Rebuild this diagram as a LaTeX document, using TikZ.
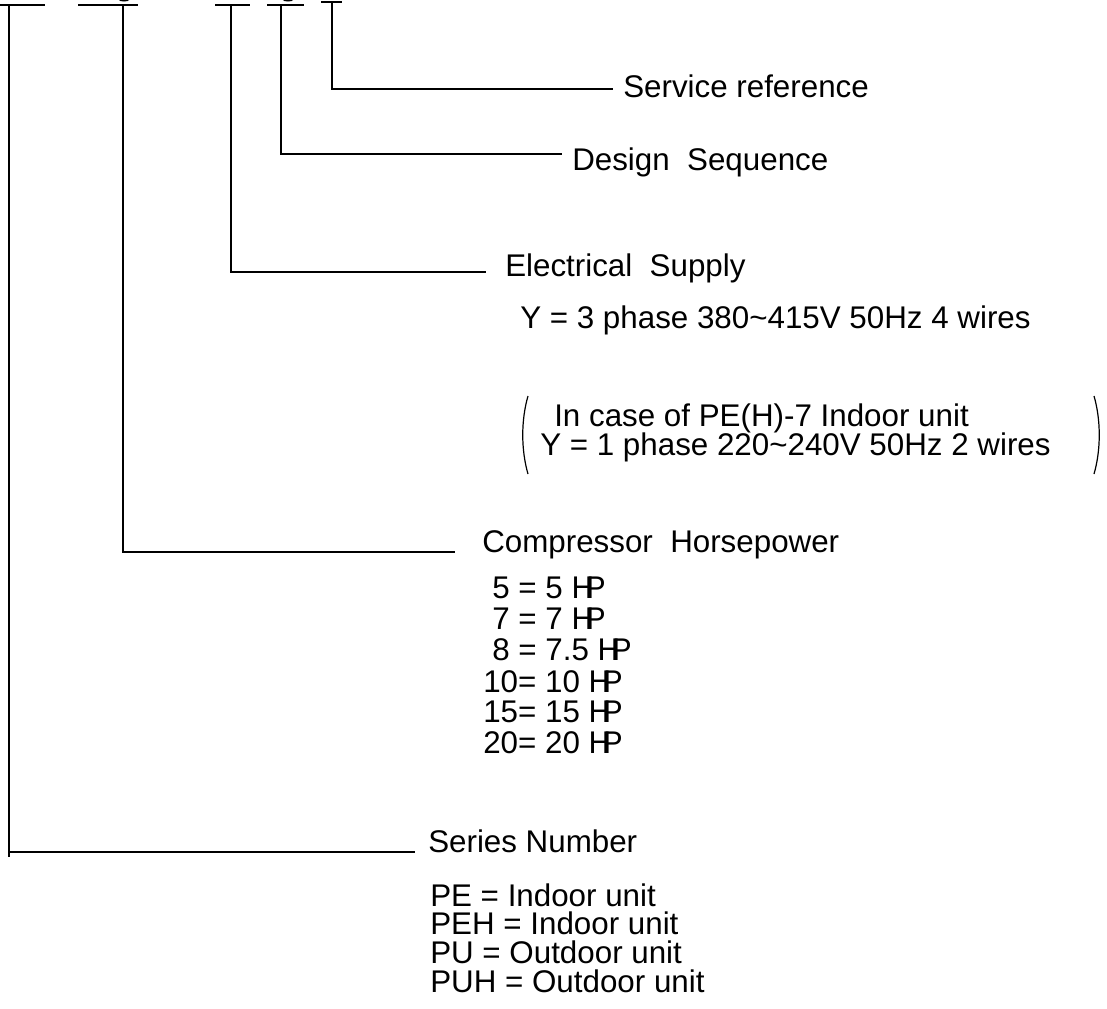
\documentclass[tikz,border=0pt]{standalone}
\usepackage{fontspec}
\setmainfont{Liberation Sans}
\begin{document}
\begin{tikzpicture}[x=0.75pt,y=-0.75pt,
  font=\fontsize{23.5}{28}\selectfont,
  lbl/.style={anchor=base west, inner sep=0pt},
  conn/.style={line width=0.9pt},
  bar/.style={line width=1.9pt}]
\useasboundingbox (0,0) rectangle (1107,1008);
% code bars at the top
\draw[bar] (0,5) -- (45,5);
\draw[bar] (78,5) -- (138,5);
\draw[bar] (215,5) -- (250,5);
\draw[bar] (267,5) -- (304,5);
\draw[bar] (321,2) -- (342,2);
\fill (124,0) ellipse (5 and 1.5);
\fill (288,0) ellipse (5 and 1.5);
% labels
\node[lbl] (svc) at (623,97) {Service reference};
\node[lbl] (des) at (572,170) {Design\ \ Sequence};
\node[lbl] (ele) at (505,276) {Electrical\ \ Supply};
\node[lbl] (ely) at (520,328) {Y = 3 phase 380\textasciitilde415V 50Hz 4 wires};
\node[lbl] (pa1) at (554,426) {In case of PE(H)-7 Indoor unit};
\node[lbl] (pa2) at (540,455) {Y = 1 phase 220\textasciitilde240V 50Hz 2 wires};
\node[lbl] (cmp) at (482,552) {Compressor\ \ Horsepower};
\node[lbl] (hp1) at (492,598) {5 = 5 H\kern-0.3em P};
\node[lbl] (hp2) at (492,629) {7 = 7 H\kern-0.3em P};
\node[lbl] (hp3) at (492,660) {8 = 7.5 H\kern-0.3em P};
\node[lbl] (hp4) at (483,692) {10= 10 H\kern-0.3em P};
\node[lbl] (hp5) at (483,722) {15= 15 H\kern-0.3em P};
\node[lbl] (hp6) at (483,753) {20= 20 H\kern-0.3em P};
\node[lbl] (ser) at (428,852) {Series Number};
\node[lbl] (pe1) at (430,906) {PE = Indoor unit};
\node[lbl] (pe2) at (430,934) {PEH = Indoor unit};
\node[lbl] (pe3) at (430,963) {PU = Outdoor unit};
\node[lbl] (pe4) at (430,992) {PUH = Outdoor unit};
% brackets
\draw[conn] (528,396) .. controls (521,420) and (521,450) .. (528,474);
\draw[conn] (1094,396) .. controls (1101,420) and (1101,450) .. (1094,474);
% connectors
\coordinate (b1) at (9,5);   \coordinate (k1) at (415,852);
\coordinate (b2) at (123,5); \coordinate (k2) at (455,552);
\coordinate (b3) at (231,5); \coordinate (k3) at (486,272);
\coordinate (b4) at (281,5); \coordinate (k4) at (562,154);
\coordinate (b5) at (332,2); \coordinate (k5) at (613,89);
\draw[conn] (b1) |- (k1);
\draw[conn] (9,852) -- (9,857);
\draw[conn] (b2) |- (k2);
\draw[conn] (b3) |- (k3);
\draw[conn] (b4) |- (k4);
\draw[conn] (b5) |- (k5);
\end{tikzpicture}
\end{document}
